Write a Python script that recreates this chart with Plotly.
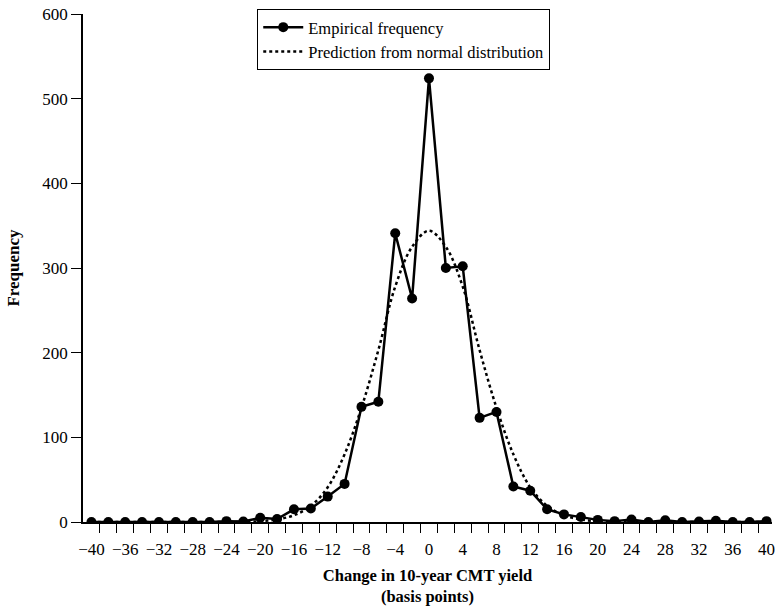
import plotly.graph_objects as go

# Data
x_bp = list(range(-40, 41, 2))
empirical = [0, 0, 0, 0, 0, 0, 0, 0, 1, 0.5, 5, 3.5, 15, 16, 30, 45, 136, 142, 341, 264,
             524, 300, 302, 123, 130, 42, 37, 15, 9, 6, 2.5, 1, 3, 0, 2, 0, 0.5, 1.5, 0, 0, 1]
normal_pred = [0, 0, 0, 0, 0, 0, 0, 0, 0, 0, 1, 3, 8, 19, 41, 80, 135, 203, 278, 325,
               344, 325, 278, 203, 135, 80, 41, 19, 8, 3, 1, 0, 0, 0, 0, 0, 0, 0, 0, 0, 0]
x_label_vals = list(range(-40, 41, 4))
x_label_text = [("\u2212" + str(-v)) if v < 0 else str(v) for v in x_label_vals]
x_minor_ticks = list(range(-39, 40, 2))
y_tick_vals = [0, 100, 200, 300, 400, 500, 600]

FONT = "Liberation Serif"

fig = go.Figure()
fig.add_trace(go.Scatter(
    x=x_bp, y=empirical, mode="lines+markers", name="Empirical frequency",
    line=dict(color="black", width=2.5),
    marker=dict(color="black", size=10, symbol="circle"),
))
fig.add_trace(go.Scatter(
    x=x_bp, y=normal_pred, mode="lines", name="Prediction from normal distribution",
    line=dict(color="black", width=2.5, dash="3px,3px", shape="spline", smoothing=1.0),
))

fig.update_layout(
    width=775, height=608,
    margin=dict(l=83, r=0, t=14, b=86),
    paper_bgcolor="white", plot_bgcolor="white",
    font=dict(family=FONT, size=17, color="black"),
    showlegend=True,
    legend=dict(
        x=(258 - 83) / 692, y=1.01, xanchor="left", yanchor="top",
        bordercolor="black", borderwidth=1, bgcolor="white",
        font=dict(family=FONT, size=16.5, color="black"),
        tracegroupgap=0, itemwidth=40,
    ),
    xaxis=dict(
        range=[-41, 40.65], showgrid=False, zeroline=False,
        showline=True, linecolor="black", linewidth=1.5,
        tickmode="array", tickvals=x_label_vals, ticktext=x_label_text,
        ticks="outside", ticklen=11, tickcolor="rgba(0,0,0,0)",
        ticklabeloverflow="allow",
        tickfont=dict(family=FONT, size=17, color="black"),
        minor=dict(tickmode="array", tickvals=x_minor_ticks, ticks="outside",
                   ticklen=9, tickcolor="black", tickwidth=1.2, showgrid=False),
        title=dict(text="<b>Change in 10-year CMT yield<br>(basis points)</b>",
                   font=dict(family=FONT, size=16.5, color="black"), standoff=11),
    ),
    yaxis=dict(
        range=[0, 600], showgrid=False, zeroline=False,
        showline=True, linecolor="black", linewidth=1.5,
        tickmode="array", tickvals=y_tick_vals,
        ticks="outside", ticklen=10, tickcolor="black", tickwidth=1.2,
        tickfont=dict(family=FONT, size=17, color="black"),
        title=dict(text="<b>Frequency</b>",
                   font=dict(family=FONT, size=17, color="black"), standoff=18),
    ),
)

fig.write_html("out.html")
